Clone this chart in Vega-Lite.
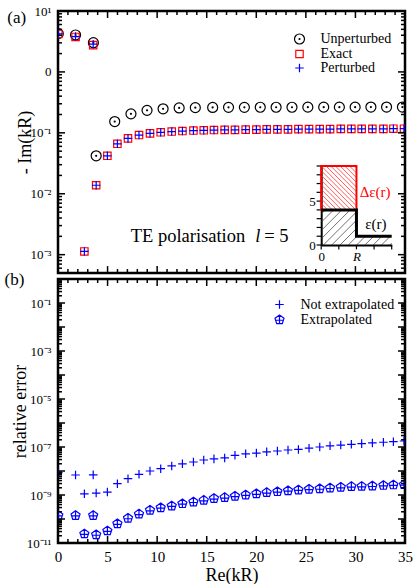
{
 "$schema": "https://vega.github.io/schema/vega-lite/v6.json",
 "padding": {"left": 3, "top": 3, "right": 8, "bottom": 2},
 "bounds": "flush",
 "spacing": 6,
 "resolve": {"scale": {"color": "independent", "shape": "independent"}},
 "config": {
  "font": "Liberation Serif",
  "view": {"stroke": "black", "strokeWidth": 2.5},
  "axis": {"domain": false, "grid": false, "labelFont": "Liberation Serif", "titleFont": "Liberation Serif", "labelColor": "black", "titleColor": "black", "labelFontSize": 13, "titleFontSize": 18, "titleFontWeight": "normal", "labelOverlap": false, "labelFlush": false, "labelBound": false},
  "legend": {"labelFont": "Liberation Serif", "labelColor": "black", "labelFontSize": 14, "padding": 0, "symbolStrokeWidth": 1.2, "symbolOpacity": 1}
 },
 "datasets": {
  "a": [
   {"x":0.03,"y":4.25,"s":"Unperturbed"},{"x":1.77,"y":4.04,"s":"Unperturbed"},{"x":3.57,"y":3.02,"s":"Unperturbed"},{"x":3.85,"y":0.042,"s":"Unperturbed"},{"x":5.72,"y":0.153,"s":"Unperturbed"},{"x":7.36,"y":0.205,"s":"Unperturbed"},{"x":8.98,"y":0.234,"s":"Unperturbed"},{"x":10.6,"y":0.248,"s":"Unperturbed"},{"x":12.22,"y":0.256,"s":"Unperturbed"},{"x":13.85,"y":0.259,"s":"Unperturbed"},{"x":15.6,"y":0.261,"s":"Unperturbed"},{"x":17.2,"y":0.262,"s":"Unperturbed"},{"x":18.8,"y":0.262,"s":"Unperturbed"},{"x":20.4,"y":0.263,"s":"Unperturbed"},{"x":22.0,"y":0.263,"s":"Unperturbed"},{"x":23.6,"y":0.263,"s":"Unperturbed"},{"x":25.2,"y":0.264,"s":"Unperturbed"},{"x":26.8,"y":0.264,"s":"Unperturbed"},{"x":28.38,"y":0.264,"s":"Unperturbed"},{"x":29.97,"y":0.264,"s":"Unperturbed"},{"x":31.56,"y":0.265,"s":"Unperturbed"},{"x":33.14,"y":0.265,"s":"Unperturbed"},{"x":34.74,"y":0.265,"s":"Unperturbed"},
   {"x":0.03,"y":4.2,"s":"Exact"},{"x":1.77,"y":3.75,"s":"Exact"},{"x":3.55,"y":2.75,"s":"Exact"},{"x":2.66,"y":0.00113,"s":"Exact"},{"x":3.85,"y":0.0138,"s":"Exact"},{"x":4.98,"y":0.042,"s":"Exact"},{"x":5.99,"y":0.066,"s":"Exact"},{"x":7.06,"y":0.081,"s":"Exact"},{"x":8.17,"y":0.092,"s":"Exact"},{"x":9.28,"y":0.098,"s":"Exact"},{"x":10.36,"y":0.102,"s":"Exact"},{"x":11.47,"y":0.105,"s":"Exact"},{"x":12.55,"y":0.107,"s":"Exact"},{"x":13.66,"y":0.109,"s":"Exact"},{"x":14.7,"y":0.110,"s":"Exact"},{"x":15.73,"y":0.111,"s":"Exact"},{"x":16.81,"y":0.112,"s":"Exact"},{"x":17.85,"y":0.112,"s":"Exact"},{"x":18.93,"y":0.113,"s":"Exact"},{"x":20.01,"y":0.113,"s":"Exact"},{"x":21.05,"y":0.114,"s":"Exact"},{"x":22.13,"y":0.114,"s":"Exact"},{"x":23.2,"y":0.114,"s":"Exact"},{"x":24.25,"y":0.115,"s":"Exact"},{"x":25.32,"y":0.115,"s":"Exact"},{"x":26.4,"y":0.115,"s":"Exact"},{"x":27.44,"y":0.115,"s":"Exact"},{"x":28.52,"y":0.116,"s":"Exact"},{"x":29.59,"y":0.116,"s":"Exact"},{"x":30.63,"y":0.116,"s":"Exact"},{"x":31.71,"y":0.116,"s":"Exact"},{"x":32.82,"y":0.116,"s":"Exact"},{"x":33.83,"y":0.117,"s":"Exact"},{"x":34.9,"y":0.117,"s":"Exact"},
   {"x":0.03,"y":4.2,"s":"Perturbed"},{"x":1.77,"y":3.8,"s":"Perturbed"},{"x":3.55,"y":2.85,"s":"Perturbed"},{"x":2.66,"y":0.00113,"s":"Perturbed"},{"x":3.85,"y":0.0138,"s":"Perturbed"},{"x":4.98,"y":0.042,"s":"Perturbed"},{"x":5.99,"y":0.066,"s":"Perturbed"},{"x":7.06,"y":0.081,"s":"Perturbed"},{"x":8.17,"y":0.092,"s":"Perturbed"},{"x":9.28,"y":0.098,"s":"Perturbed"},{"x":10.36,"y":0.102,"s":"Perturbed"},{"x":11.47,"y":0.105,"s":"Perturbed"},{"x":12.55,"y":0.107,"s":"Perturbed"},{"x":13.66,"y":0.109,"s":"Perturbed"},{"x":14.7,"y":0.110,"s":"Perturbed"},{"x":15.73,"y":0.111,"s":"Perturbed"},{"x":16.81,"y":0.112,"s":"Perturbed"},{"x":17.85,"y":0.112,"s":"Perturbed"},{"x":18.93,"y":0.113,"s":"Perturbed"},{"x":20.01,"y":0.113,"s":"Perturbed"},{"x":21.05,"y":0.114,"s":"Perturbed"},{"x":22.13,"y":0.114,"s":"Perturbed"},{"x":23.2,"y":0.114,"s":"Perturbed"},{"x":24.25,"y":0.115,"s":"Perturbed"},{"x":25.32,"y":0.115,"s":"Perturbed"},{"x":26.4,"y":0.115,"s":"Perturbed"},{"x":27.44,"y":0.115,"s":"Perturbed"},{"x":28.52,"y":0.116,"s":"Perturbed"},{"x":29.59,"y":0.116,"s":"Perturbed"},{"x":30.63,"y":0.116,"s":"Perturbed"},{"x":31.71,"y":0.116,"s":"Perturbed"},{"x":32.82,"y":0.116,"s":"Perturbed"},{"x":33.83,"y":0.117,"s":"Perturbed"},{"x":34.9,"y":0.117,"s":"Perturbed"}
  ],
  "b": [
   {"x":0.03,"y":8.5e-9,"s":"Not extrapolated"},{"x":1.77,"y":6.8e-9,"s":"Not extrapolated"},{"x":3.55,"y":6.9e-9,"s":"Not extrapolated"},{"x":2.66,"y":1.12e-9,"s":"Not extrapolated"},{"x":3.85,"y":1.2e-9,"s":"Not extrapolated"},{"x":4.98,"y":1.33e-9,"s":"Not extrapolated"},{"x":5.99,"y":2.96e-9,"s":"Not extrapolated"},{"x":7.06,"y":4.8e-9,"s":"Not extrapolated"},{"x":8.17,"y":7.3e-9,"s":"Not extrapolated"},{"x":9.28,"y":1.0e-8,"s":"Not extrapolated"},{"x":10.36,"y":1.25e-8,"s":"Not extrapolated"},{"x":11.47,"y":1.63e-8,"s":"Not extrapolated"},{"x":12.55,"y":2.0e-8,"s":"Not extrapolated"},{"x":13.66,"y":2.37e-8,"s":"Not extrapolated"},{"x":14.7,"y":2.87e-8,"s":"Not extrapolated"},{"x":15.73,"y":3.2e-8,"s":"Not extrapolated"},{"x":16.81,"y":3.5e-8,"s":"Not extrapolated"},{"x":17.85,"y":4.5e-8,"s":"Not extrapolated"},{"x":18.93,"y":5.2e-8,"s":"Not extrapolated"},{"x":20.01,"y":5.6e-8,"s":"Not extrapolated"},{"x":21.05,"y":6.3e-8,"s":"Not extrapolated"},{"x":22.13,"y":6.8e-8,"s":"Not extrapolated"},{"x":23.2,"y":7.5e-8,"s":"Not extrapolated"},{"x":24.25,"y":7.9e-8,"s":"Not extrapolated"},{"x":25.32,"y":8.9e-8,"s":"Not extrapolated"},{"x":26.4,"y":1.0e-7,"s":"Not extrapolated"},{"x":27.44,"y":1.12e-7,"s":"Not extrapolated"},{"x":28.52,"y":1.2e-7,"s":"Not extrapolated"},{"x":29.59,"y":1.29e-7,"s":"Not extrapolated"},{"x":30.63,"y":1.38e-7,"s":"Not extrapolated"},{"x":31.71,"y":1.48e-7,"s":"Not extrapolated"},{"x":32.82,"y":1.58e-7,"s":"Not extrapolated"},{"x":33.83,"y":1.66e-7,"s":"Not extrapolated"},{"x":34.9,"y":1.78e-7,"s":"Not extrapolated"},
   {"x":0.03,"y":1.4e-10,"s":"Extrapolated"},{"x":1.77,"y":1.4e-10,"s":"Extrapolated"},{"x":3.55,"y":1.4e-10,"s":"Extrapolated"},{"x":2.66,"y":2.4e-11,"s":"Extrapolated"},{"x":3.85,"y":2.2e-11,"s":"Extrapolated"},{"x":4.98,"y":3.2e-11,"s":"Extrapolated"},{"x":5.99,"y":6.3e-11,"s":"Extrapolated"},{"x":7.06,"y":1.07e-10,"s":"Extrapolated"},{"x":8.17,"y":1.6e-10,"s":"Extrapolated"},{"x":9.28,"y":2.3e-10,"s":"Extrapolated"},{"x":10.36,"y":2.95e-10,"s":"Extrapolated"},{"x":11.47,"y":3.5e-10,"s":"Extrapolated"},{"x":12.55,"y":4.35e-10,"s":"Extrapolated"},{"x":13.66,"y":5.1e-10,"s":"Extrapolated"},{"x":14.7,"y":6.0e-10,"s":"Extrapolated"},{"x":15.73,"y":7.1e-10,"s":"Extrapolated"},{"x":16.81,"y":7.8e-10,"s":"Extrapolated"},{"x":17.85,"y":8.9e-10,"s":"Extrapolated"},{"x":18.93,"y":1.0e-9,"s":"Extrapolated"},{"x":20.01,"y":1.12e-9,"s":"Extrapolated"},{"x":21.05,"y":1.26e-9,"s":"Extrapolated"},{"x":22.13,"y":1.38e-9,"s":"Extrapolated"},{"x":23.2,"y":1.51e-9,"s":"Extrapolated"},{"x":24.25,"y":1.62e-9,"s":"Extrapolated"},{"x":25.32,"y":1.74e-9,"s":"Extrapolated"},{"x":26.4,"y":1.82e-9,"s":"Extrapolated"},{"x":27.44,"y":1.95e-9,"s":"Extrapolated"},{"x":28.52,"y":2.09e-9,"s":"Extrapolated"},{"x":29.59,"y":2.24e-9,"s":"Extrapolated"},{"x":30.63,"y":2.29e-9,"s":"Extrapolated"},{"x":31.71,"y":2.37e-9,"s":"Extrapolated"},{"x":32.82,"y":2.51e-9,"s":"Extrapolated"},{"x":33.83,"y":2.63e-9,"s":"Extrapolated"},{"x":34.9,"y":2.69e-9,"s":"Extrapolated"}
  ],
  "ta": [
   {"x":0,"x2":0,"y":10,"y2":7.68},{"x":0,"x2":0,"y":0.0005,"y2":0.00065},{"x":5,"x2":5,"y":10,"y2":7.68},{"x":5,"x2":5,"y":0.0005,"y2":0.00065},{"x":10,"x2":10,"y":10,"y2":7.68},{"x":10,"x2":10,"y":0.0005,"y2":0.00065},{"x":15,"x2":15,"y":10,"y2":7.68},{"x":15,"x2":15,"y":0.0005,"y2":0.00065},{"x":20,"x2":20,"y":10,"y2":7.68},{"x":20,"x2":20,"y":0.0005,"y2":0.00065},{"x":25,"x2":25,"y":10,"y2":7.68},{"x":25,"x2":25,"y":0.0005,"y2":0.00065},{"x":30,"x2":30,"y":10,"y2":7.68},{"x":30,"x2":30,"y":0.0005,"y2":0.00065},{"x":35,"x2":35,"y":10,"y2":7.68},{"x":35,"x2":35,"y":0.0005,"y2":0.00065},
   {"x":1,"x2":1,"y":10,"y2":8.6},{"x":1,"x2":1,"y":0.0005,"y2":0.00058},{"x":2,"x2":2,"y":10,"y2":8.6},{"x":2,"x2":2,"y":0.0005,"y2":0.00058},{"x":3,"x2":3,"y":10,"y2":8.6},{"x":3,"x2":3,"y":0.0005,"y2":0.00058},{"x":4,"x2":4,"y":10,"y2":8.6},{"x":4,"x2":4,"y":0.0005,"y2":0.00058},
   {"x":6,"x2":6,"y":10,"y2":8.6},{"x":6,"x2":6,"y":0.0005,"y2":0.00058},{"x":7,"x2":7,"y":10,"y2":8.6},{"x":7,"x2":7,"y":0.0005,"y2":0.00058},{"x":8,"x2":8,"y":10,"y2":8.6},{"x":8,"x2":8,"y":0.0005,"y2":0.00058},{"x":9,"x2":9,"y":10,"y2":8.6},{"x":9,"x2":9,"y":0.0005,"y2":0.00058},
   {"x":11,"x2":11,"y":10,"y2":8.6},{"x":11,"x2":11,"y":0.0005,"y2":0.00058},{"x":12,"x2":12,"y":10,"y2":8.6},{"x":12,"x2":12,"y":0.0005,"y2":0.00058},{"x":13,"x2":13,"y":10,"y2":8.6},{"x":13,"x2":13,"y":0.0005,"y2":0.00058},{"x":14,"x2":14,"y":10,"y2":8.6},{"x":14,"x2":14,"y":0.0005,"y2":0.00058},
   {"x":16,"x2":16,"y":10,"y2":8.6},{"x":16,"x2":16,"y":0.0005,"y2":0.00058},{"x":17,"x2":17,"y":10,"y2":8.6},{"x":17,"x2":17,"y":0.0005,"y2":0.00058},{"x":18,"x2":18,"y":10,"y2":8.6},{"x":18,"x2":18,"y":0.0005,"y2":0.00058},{"x":19,"x2":19,"y":10,"y2":8.6},{"x":19,"x2":19,"y":0.0005,"y2":0.00058},
   {"x":21,"x2":21,"y":10,"y2":8.6},{"x":21,"x2":21,"y":0.0005,"y2":0.00058},{"x":22,"x2":22,"y":10,"y2":8.6},{"x":22,"x2":22,"y":0.0005,"y2":0.00058},{"x":23,"x2":23,"y":10,"y2":8.6},{"x":23,"x2":23,"y":0.0005,"y2":0.00058},{"x":24,"x2":24,"y":10,"y2":8.6},{"x":24,"x2":24,"y":0.0005,"y2":0.00058},
   {"x":26,"x2":26,"y":10,"y2":8.6},{"x":26,"x2":26,"y":0.0005,"y2":0.00058},{"x":27,"x2":27,"y":10,"y2":8.6},{"x":27,"x2":27,"y":0.0005,"y2":0.00058},{"x":28,"x2":28,"y":10,"y2":8.6},{"x":28,"x2":28,"y":0.0005,"y2":0.00058},{"x":29,"x2":29,"y":10,"y2":8.6},{"x":29,"x2":29,"y":0.0005,"y2":0.00058},
   {"x":31,"x2":31,"y":10,"y2":8.6},{"x":31,"x2":31,"y":0.0005,"y2":0.00058},{"x":32,"x2":32,"y":10,"y2":8.6},{"x":32,"x2":32,"y":0.0005,"y2":0.00058},{"x":33,"x2":33,"y":10,"y2":8.6},{"x":33,"x2":33,"y":0.0005,"y2":0.00058},{"x":34,"x2":34,"y":10,"y2":8.6},{"x":34,"x2":34,"y":0.0005,"y2":0.00058},
   {"x":0,"x2":0.706,"y":0.001,"y2":0.001},{"x":35,"x2":34.294,"y":0.001,"y2":0.001},{"x":0,"x2":0.706,"y":0.01,"y2":0.01},{"x":35,"x2":34.294,"y":0.01,"y2":0.01},{"x":0,"x2":0.706,"y":0.1,"y2":0.1},{"x":35,"x2":34.294,"y":0.1,"y2":0.1},{"x":0,"x2":0.706,"y":1,"y2":1},{"x":35,"x2":34.294,"y":1,"y2":1},
   {"x":0,"x2":0.403,"y":0.0006,"y2":0.0006},{"x":35,"x2":34.597,"y":0.0006,"y2":0.0006},{"x":0,"x2":0.403,"y":0.0007,"y2":0.0007},{"x":35,"x2":34.597,"y":0.0007,"y2":0.0007},{"x":0,"x2":0.403,"y":0.0008,"y2":0.0008},{"x":35,"x2":34.597,"y":0.0008,"y2":0.0008},{"x":0,"x2":0.403,"y":0.0009,"y2":0.0009},{"x":35,"x2":34.597,"y":0.0009,"y2":0.0009},
   {"x":0,"x2":0.403,"y":0.002,"y2":0.002},{"x":35,"x2":34.597,"y":0.002,"y2":0.002},{"x":0,"x2":0.403,"y":0.003,"y2":0.003},{"x":35,"x2":34.597,"y":0.003,"y2":0.003},{"x":0,"x2":0.403,"y":0.004,"y2":0.004},{"x":35,"x2":34.597,"y":0.004,"y2":0.004},{"x":0,"x2":0.403,"y":0.005,"y2":0.005},{"x":35,"x2":34.597,"y":0.005,"y2":0.005},{"x":0,"x2":0.403,"y":0.006,"y2":0.006},{"x":35,"x2":34.597,"y":0.006,"y2":0.006},{"x":0,"x2":0.403,"y":0.007,"y2":0.007},{"x":35,"x2":34.597,"y":0.007,"y2":0.007},{"x":0,"x2":0.403,"y":0.008,"y2":0.008},{"x":35,"x2":34.597,"y":0.008,"y2":0.008},{"x":0,"x2":0.403,"y":0.009,"y2":0.009},{"x":35,"x2":34.597,"y":0.009,"y2":0.009},
   {"x":0,"x2":0.403,"y":0.02,"y2":0.02},{"x":35,"x2":34.597,"y":0.02,"y2":0.02},{"x":0,"x2":0.403,"y":0.03,"y2":0.03},{"x":35,"x2":34.597,"y":0.03,"y2":0.03},{"x":0,"x2":0.403,"y":0.04,"y2":0.04},{"x":35,"x2":34.597,"y":0.04,"y2":0.04},{"x":0,"x2":0.403,"y":0.05,"y2":0.05},{"x":35,"x2":34.597,"y":0.05,"y2":0.05},{"x":0,"x2":0.403,"y":0.06,"y2":0.06},{"x":35,"x2":34.597,"y":0.06,"y2":0.06},{"x":0,"x2":0.403,"y":0.07,"y2":0.07},{"x":35,"x2":34.597,"y":0.07,"y2":0.07},{"x":0,"x2":0.403,"y":0.08,"y2":0.08},{"x":35,"x2":34.597,"y":0.08,"y2":0.08},{"x":0,"x2":0.403,"y":0.09,"y2":0.09},{"x":35,"x2":34.597,"y":0.09,"y2":0.09},
   {"x":0,"x2":0.403,"y":0.2,"y2":0.2},{"x":35,"x2":34.597,"y":0.2,"y2":0.2},{"x":0,"x2":0.403,"y":0.3,"y2":0.3},{"x":35,"x2":34.597,"y":0.3,"y2":0.3},{"x":0,"x2":0.403,"y":0.4,"y2":0.4},{"x":35,"x2":34.597,"y":0.4,"y2":0.4},{"x":0,"x2":0.403,"y":0.5,"y2":0.5},{"x":35,"x2":34.597,"y":0.5,"y2":0.5},{"x":0,"x2":0.403,"y":0.6,"y2":0.6},{"x":35,"x2":34.597,"y":0.6,"y2":0.6},{"x":0,"x2":0.403,"y":0.7,"y2":0.7},{"x":35,"x2":34.597,"y":0.7,"y2":0.7},{"x":0,"x2":0.403,"y":0.8,"y2":0.8},{"x":35,"x2":34.597,"y":0.8,"y2":0.8},{"x":0,"x2":0.403,"y":0.9,"y2":0.9},{"x":35,"x2":34.597,"y":0.9,"y2":0.9},
   {"x":0,"x2":0.403,"y":2,"y2":2},{"x":35,"x2":34.597,"y":2,"y2":2},{"x":0,"x2":0.403,"y":3,"y2":3},{"x":35,"x2":34.597,"y":3,"y2":3},{"x":0,"x2":0.403,"y":4,"y2":4},{"x":35,"x2":34.597,"y":4,"y2":4},{"x":0,"x2":0.403,"y":5,"y2":5},{"x":35,"x2":34.597,"y":5,"y2":5},{"x":0,"x2":0.403,"y":6,"y2":6},{"x":35,"x2":34.597,"y":6,"y2":6},{"x":0,"x2":0.403,"y":7,"y2":7},{"x":35,"x2":34.597,"y":7,"y2":7},{"x":0,"x2":0.403,"y":8,"y2":8},{"x":35,"x2":34.597,"y":8,"y2":8},{"x":0,"x2":0.403,"y":9,"y2":9},{"x":35,"x2":34.597,"y":9,"y2":9}
  ],
  "tb": [
   {"x":0,"x2":0,"y":1,"y2":0.511},{"x":0,"x2":0,"y":1e-11,"y2":1.96e-11},{"x":5,"x2":5,"y":1,"y2":0.511},{"x":5,"x2":5,"y":1e-11,"y2":1.96e-11},{"x":10,"x2":10,"y":1,"y2":0.511},{"x":10,"x2":10,"y":1e-11,"y2":1.96e-11},{"x":15,"x2":15,"y":1,"y2":0.511},{"x":15,"x2":15,"y":1e-11,"y2":1.96e-11},{"x":20,"x2":20,"y":1,"y2":0.511},{"x":20,"x2":20,"y":1e-11,"y2":1.96e-11},{"x":25,"x2":25,"y":1,"y2":0.511},{"x":25,"x2":25,"y":1e-11,"y2":1.96e-11},{"x":30,"x2":30,"y":1,"y2":0.511},{"x":30,"x2":30,"y":1e-11,"y2":1.96e-11},{"x":35,"x2":35,"y":1,"y2":0.511},{"x":35,"x2":35,"y":1e-11,"y2":1.96e-11},
   {"x":1,"x2":1,"y":1,"y2":0.681},{"x":1,"x2":1,"y":1e-11,"y2":1.47e-11},{"x":2,"x2":2,"y":1,"y2":0.681},{"x":2,"x2":2,"y":1e-11,"y2":1.47e-11},{"x":3,"x2":3,"y":1,"y2":0.681},{"x":3,"x2":3,"y":1e-11,"y2":1.47e-11},{"x":4,"x2":4,"y":1,"y2":0.681},{"x":4,"x2":4,"y":1e-11,"y2":1.47e-11},
   {"x":6,"x2":6,"y":1,"y2":0.681},{"x":6,"x2":6,"y":1e-11,"y2":1.47e-11},{"x":7,"x2":7,"y":1,"y2":0.681},{"x":7,"x2":7,"y":1e-11,"y2":1.47e-11},{"x":8,"x2":8,"y":1,"y2":0.681},{"x":8,"x2":8,"y":1e-11,"y2":1.47e-11},{"x":9,"x2":9,"y":1,"y2":0.681},{"x":9,"x2":9,"y":1e-11,"y2":1.47e-11},
   {"x":11,"x2":11,"y":1,"y2":0.681},{"x":11,"x2":11,"y":1e-11,"y2":1.47e-11},{"x":12,"x2":12,"y":1,"y2":0.681},{"x":12,"x2":12,"y":1e-11,"y2":1.47e-11},{"x":13,"x2":13,"y":1,"y2":0.681},{"x":13,"x2":13,"y":1e-11,"y2":1.47e-11},{"x":14,"x2":14,"y":1,"y2":0.681},{"x":14,"x2":14,"y":1e-11,"y2":1.47e-11},
   {"x":16,"x2":16,"y":1,"y2":0.681},{"x":16,"x2":16,"y":1e-11,"y2":1.47e-11},{"x":17,"x2":17,"y":1,"y2":0.681},{"x":17,"x2":17,"y":1e-11,"y2":1.47e-11},{"x":18,"x2":18,"y":1,"y2":0.681},{"x":18,"x2":18,"y":1e-11,"y2":1.47e-11},{"x":19,"x2":19,"y":1,"y2":0.681},{"x":19,"x2":19,"y":1e-11,"y2":1.47e-11},
   {"x":21,"x2":21,"y":1,"y2":0.681},{"x":21,"x2":21,"y":1e-11,"y2":1.47e-11},{"x":22,"x2":22,"y":1,"y2":0.681},{"x":22,"x2":22,"y":1e-11,"y2":1.47e-11},{"x":23,"x2":23,"y":1,"y2":0.681},{"x":23,"x2":23,"y":1e-11,"y2":1.47e-11},{"x":24,"x2":24,"y":1,"y2":0.681},{"x":24,"x2":24,"y":1e-11,"y2":1.47e-11},
   {"x":26,"x2":26,"y":1,"y2":0.681},{"x":26,"x2":26,"y":1e-11,"y2":1.47e-11},{"x":27,"x2":27,"y":1,"y2":0.681},{"x":27,"x2":27,"y":1e-11,"y2":1.47e-11},{"x":28,"x2":28,"y":1,"y2":0.681},{"x":28,"x2":28,"y":1e-11,"y2":1.47e-11},{"x":29,"x2":29,"y":1,"y2":0.681},{"x":29,"x2":29,"y":1e-11,"y2":1.47e-11},
   {"x":31,"x2":31,"y":1,"y2":0.681},{"x":31,"x2":31,"y":1e-11,"y2":1.47e-11},{"x":32,"x2":32,"y":1,"y2":0.681},{"x":32,"x2":32,"y":1e-11,"y2":1.47e-11},{"x":33,"x2":33,"y":1,"y2":0.681},{"x":33,"x2":33,"y":1e-11,"y2":1.47e-11},{"x":34,"x2":34,"y":1,"y2":0.681},{"x":34,"x2":34,"y":1e-11,"y2":1.47e-11},
   {"x":0,"x2":0.706,"y":1e-10,"y2":1e-10},{"x":35,"x2":34.294,"y":1e-10,"y2":1e-10},{"x":0,"x2":0.706,"y":1e-9,"y2":1e-9},{"x":35,"x2":34.294,"y":1e-9,"y2":1e-9},{"x":0,"x2":0.706,"y":1e-8,"y2":1e-8},{"x":35,"x2":34.294,"y":1e-8,"y2":1e-8},{"x":0,"x2":0.706,"y":1e-7,"y2":1e-7},{"x":35,"x2":34.294,"y":1e-7,"y2":1e-7},{"x":0,"x2":0.706,"y":1e-6,"y2":1e-6},{"x":35,"x2":34.294,"y":1e-6,"y2":1e-6},{"x":0,"x2":0.706,"y":1e-5,"y2":1e-5},{"x":35,"x2":34.294,"y":1e-5,"y2":1e-5},{"x":0,"x2":0.706,"y":1e-4,"y2":1e-4},{"x":35,"x2":34.294,"y":1e-4,"y2":1e-4},{"x":0,"x2":0.706,"y":1e-3,"y2":1e-3},{"x":35,"x2":34.294,"y":1e-3,"y2":1e-3},{"x":0,"x2":0.706,"y":1e-2,"y2":1e-2},{"x":35,"x2":34.294,"y":1e-2,"y2":1e-2},{"x":0,"x2":0.706,"y":1e-1,"y2":1e-1},{"x":35,"x2":34.294,"y":1e-1,"y2":1e-1},
   {"x":0,"x2":0.403,"y":2e-11,"y2":2e-11},{"x":35,"x2":34.597,"y":2e-11,"y2":2e-11},{"x":0,"x2":0.403,"y":3e-11,"y2":3e-11},{"x":35,"x2":34.597,"y":3e-11,"y2":3e-11},{"x":0,"x2":0.403,"y":4e-11,"y2":4e-11},{"x":35,"x2":34.597,"y":4e-11,"y2":4e-11},{"x":0,"x2":0.403,"y":5e-11,"y2":5e-11},{"x":35,"x2":34.597,"y":5e-11,"y2":5e-11},{"x":0,"x2":0.403,"y":6e-11,"y2":6e-11},{"x":35,"x2":34.597,"y":6e-11,"y2":6e-11},{"x":0,"x2":0.403,"y":7e-11,"y2":7e-11},{"x":35,"x2":34.597,"y":7e-11,"y2":7e-11},{"x":0,"x2":0.403,"y":8e-11,"y2":8e-11},{"x":35,"x2":34.597,"y":8e-11,"y2":8e-11},{"x":0,"x2":0.403,"y":9e-11,"y2":9e-11},{"x":35,"x2":34.597,"y":9e-11,"y2":9e-11},
   {"x":0,"x2":0.403,"y":2e-10,"y2":2e-10},{"x":35,"x2":34.597,"y":2e-10,"y2":2e-10},{"x":0,"x2":0.403,"y":3e-10,"y2":3e-10},{"x":35,"x2":34.597,"y":3e-10,"y2":3e-10},{"x":0,"x2":0.403,"y":4e-10,"y2":4e-10},{"x":35,"x2":34.597,"y":4e-10,"y2":4e-10},{"x":0,"x2":0.403,"y":5e-10,"y2":5e-10},{"x":35,"x2":34.597,"y":5e-10,"y2":5e-10},{"x":0,"x2":0.403,"y":6e-10,"y2":6e-10},{"x":35,"x2":34.597,"y":6e-10,"y2":6e-10},{"x":0,"x2":0.403,"y":7e-10,"y2":7e-10},{"x":35,"x2":34.597,"y":7e-10,"y2":7e-10},{"x":0,"x2":0.403,"y":8e-10,"y2":8e-10},{"x":35,"x2":34.597,"y":8e-10,"y2":8e-10},{"x":0,"x2":0.403,"y":9e-10,"y2":9e-10},{"x":35,"x2":34.597,"y":9e-10,"y2":9e-10},
   {"x":0,"x2":0.403,"y":2e-9,"y2":2e-9},{"x":35,"x2":34.597,"y":2e-9,"y2":2e-9},{"x":0,"x2":0.403,"y":3e-9,"y2":3e-9},{"x":35,"x2":34.597,"y":3e-9,"y2":3e-9},{"x":0,"x2":0.403,"y":4e-9,"y2":4e-9},{"x":35,"x2":34.597,"y":4e-9,"y2":4e-9},{"x":0,"x2":0.403,"y":5e-9,"y2":5e-9},{"x":35,"x2":34.597,"y":5e-9,"y2":5e-9},{"x":0,"x2":0.403,"y":6e-9,"y2":6e-9},{"x":35,"x2":34.597,"y":6e-9,"y2":6e-9},{"x":0,"x2":0.403,"y":7e-9,"y2":7e-9},{"x":35,"x2":34.597,"y":7e-9,"y2":7e-9},{"x":0,"x2":0.403,"y":8e-9,"y2":8e-9},{"x":35,"x2":34.597,"y":8e-9,"y2":8e-9},{"x":0,"x2":0.403,"y":9e-9,"y2":9e-9},{"x":35,"x2":34.597,"y":9e-9,"y2":9e-9},
   {"x":0,"x2":0.403,"y":2e-8,"y2":2e-8},{"x":35,"x2":34.597,"y":2e-8,"y2":2e-8},{"x":0,"x2":0.403,"y":3e-8,"y2":3e-8},{"x":35,"x2":34.597,"y":3e-8,"y2":3e-8},{"x":0,"x2":0.403,"y":4e-8,"y2":4e-8},{"x":35,"x2":34.597,"y":4e-8,"y2":4e-8},{"x":0,"x2":0.403,"y":5e-8,"y2":5e-8},{"x":35,"x2":34.597,"y":5e-8,"y2":5e-8},{"x":0,"x2":0.403,"y":6e-8,"y2":6e-8},{"x":35,"x2":34.597,"y":6e-8,"y2":6e-8},{"x":0,"x2":0.403,"y":7e-8,"y2":7e-8},{"x":35,"x2":34.597,"y":7e-8,"y2":7e-8},{"x":0,"x2":0.403,"y":8e-8,"y2":8e-8},{"x":35,"x2":34.597,"y":8e-8,"y2":8e-8},{"x":0,"x2":0.403,"y":9e-8,"y2":9e-8},{"x":35,"x2":34.597,"y":9e-8,"y2":9e-8},
   {"x":0,"x2":0.403,"y":2e-7,"y2":2e-7},{"x":35,"x2":34.597,"y":2e-7,"y2":2e-7},{"x":0,"x2":0.403,"y":3e-7,"y2":3e-7},{"x":35,"x2":34.597,"y":3e-7,"y2":3e-7},{"x":0,"x2":0.403,"y":4e-7,"y2":4e-7},{"x":35,"x2":34.597,"y":4e-7,"y2":4e-7},{"x":0,"x2":0.403,"y":5e-7,"y2":5e-7},{"x":35,"x2":34.597,"y":5e-7,"y2":5e-7},{"x":0,"x2":0.403,"y":6e-7,"y2":6e-7},{"x":35,"x2":34.597,"y":6e-7,"y2":6e-7},{"x":0,"x2":0.403,"y":7e-7,"y2":7e-7},{"x":35,"x2":34.597,"y":7e-7,"y2":7e-7},{"x":0,"x2":0.403,"y":8e-7,"y2":8e-7},{"x":35,"x2":34.597,"y":8e-7,"y2":8e-7},{"x":0,"x2":0.403,"y":9e-7,"y2":9e-7},{"x":35,"x2":34.597,"y":9e-7,"y2":9e-7},
   {"x":0,"x2":0.403,"y":2e-6,"y2":2e-6},{"x":35,"x2":34.597,"y":2e-6,"y2":2e-6},{"x":0,"x2":0.403,"y":3e-6,"y2":3e-6},{"x":35,"x2":34.597,"y":3e-6,"y2":3e-6},{"x":0,"x2":0.403,"y":4e-6,"y2":4e-6},{"x":35,"x2":34.597,"y":4e-6,"y2":4e-6},{"x":0,"x2":0.403,"y":5e-6,"y2":5e-6},{"x":35,"x2":34.597,"y":5e-6,"y2":5e-6},{"x":0,"x2":0.403,"y":6e-6,"y2":6e-6},{"x":35,"x2":34.597,"y":6e-6,"y2":6e-6},{"x":0,"x2":0.403,"y":7e-6,"y2":7e-6},{"x":35,"x2":34.597,"y":7e-6,"y2":7e-6},{"x":0,"x2":0.403,"y":8e-6,"y2":8e-6},{"x":35,"x2":34.597,"y":8e-6,"y2":8e-6},{"x":0,"x2":0.403,"y":9e-6,"y2":9e-6},{"x":35,"x2":34.597,"y":9e-6,"y2":9e-6},
   {"x":0,"x2":0.403,"y":2e-5,"y2":2e-5},{"x":35,"x2":34.597,"y":2e-5,"y2":2e-5},{"x":0,"x2":0.403,"y":3e-5,"y2":3e-5},{"x":35,"x2":34.597,"y":3e-5,"y2":3e-5},{"x":0,"x2":0.403,"y":4e-5,"y2":4e-5},{"x":35,"x2":34.597,"y":4e-5,"y2":4e-5},{"x":0,"x2":0.403,"y":5e-5,"y2":5e-5},{"x":35,"x2":34.597,"y":5e-5,"y2":5e-5},{"x":0,"x2":0.403,"y":6e-5,"y2":6e-5},{"x":35,"x2":34.597,"y":6e-5,"y2":6e-5},{"x":0,"x2":0.403,"y":7e-5,"y2":7e-5},{"x":35,"x2":34.597,"y":7e-5,"y2":7e-5},{"x":0,"x2":0.403,"y":8e-5,"y2":8e-5},{"x":35,"x2":34.597,"y":8e-5,"y2":8e-5},{"x":0,"x2":0.403,"y":9e-5,"y2":9e-5},{"x":35,"x2":34.597,"y":9e-5,"y2":9e-5},
   {"x":0,"x2":0.403,"y":2e-4,"y2":2e-4},{"x":35,"x2":34.597,"y":2e-4,"y2":2e-4},{"x":0,"x2":0.403,"y":3e-4,"y2":3e-4},{"x":35,"x2":34.597,"y":3e-4,"y2":3e-4},{"x":0,"x2":0.403,"y":4e-4,"y2":4e-4},{"x":35,"x2":34.597,"y":4e-4,"y2":4e-4},{"x":0,"x2":0.403,"y":5e-4,"y2":5e-4},{"x":35,"x2":34.597,"y":5e-4,"y2":5e-4},{"x":0,"x2":0.403,"y":6e-4,"y2":6e-4},{"x":35,"x2":34.597,"y":6e-4,"y2":6e-4},{"x":0,"x2":0.403,"y":7e-4,"y2":7e-4},{"x":35,"x2":34.597,"y":7e-4,"y2":7e-4},{"x":0,"x2":0.403,"y":8e-4,"y2":8e-4},{"x":35,"x2":34.597,"y":8e-4,"y2":8e-4},{"x":0,"x2":0.403,"y":9e-4,"y2":9e-4},{"x":35,"x2":34.597,"y":9e-4,"y2":9e-4},
   {"x":0,"x2":0.403,"y":2e-3,"y2":2e-3},{"x":35,"x2":34.597,"y":2e-3,"y2":2e-3},{"x":0,"x2":0.403,"y":3e-3,"y2":3e-3},{"x":35,"x2":34.597,"y":3e-3,"y2":3e-3},{"x":0,"x2":0.403,"y":4e-3,"y2":4e-3},{"x":35,"x2":34.597,"y":4e-3,"y2":4e-3},{"x":0,"x2":0.403,"y":5e-3,"y2":5e-3},{"x":35,"x2":34.597,"y":5e-3,"y2":5e-3},{"x":0,"x2":0.403,"y":6e-3,"y2":6e-3},{"x":35,"x2":34.597,"y":6e-3,"y2":6e-3},{"x":0,"x2":0.403,"y":7e-3,"y2":7e-3},{"x":35,"x2":34.597,"y":7e-3,"y2":7e-3},{"x":0,"x2":0.403,"y":8e-3,"y2":8e-3},{"x":35,"x2":34.597,"y":8e-3,"y2":8e-3},{"x":0,"x2":0.403,"y":9e-3,"y2":9e-3},{"x":35,"x2":34.597,"y":9e-3,"y2":9e-3},
   {"x":0,"x2":0.403,"y":2e-2,"y2":2e-2},{"x":35,"x2":34.597,"y":2e-2,"y2":2e-2},{"x":0,"x2":0.403,"y":3e-2,"y2":3e-2},{"x":35,"x2":34.597,"y":3e-2,"y2":3e-2},{"x":0,"x2":0.403,"y":4e-2,"y2":4e-2},{"x":35,"x2":34.597,"y":4e-2,"y2":4e-2},{"x":0,"x2":0.403,"y":5e-2,"y2":5e-2},{"x":35,"x2":34.597,"y":5e-2,"y2":5e-2},{"x":0,"x2":0.403,"y":6e-2,"y2":6e-2},{"x":35,"x2":34.597,"y":6e-2,"y2":6e-2},{"x":0,"x2":0.403,"y":7e-2,"y2":7e-2},{"x":35,"x2":34.597,"y":7e-2,"y2":7e-2},{"x":0,"x2":0.403,"y":8e-2,"y2":8e-2},{"x":35,"x2":34.597,"y":8e-2,"y2":8e-2},{"x":0,"x2":0.403,"y":9e-2,"y2":9e-2},{"x":35,"x2":34.597,"y":9e-2,"y2":9e-2},
   {"x":0,"x2":0.403,"y":0.2,"y2":0.2},{"x":35,"x2":34.597,"y":0.2,"y2":0.2},{"x":0,"x2":0.403,"y":0.3,"y2":0.3},{"x":35,"x2":34.597,"y":0.3,"y2":0.3},{"x":0,"x2":0.403,"y":0.4,"y2":0.4},{"x":35,"x2":34.597,"y":0.4,"y2":0.4},{"x":0,"x2":0.403,"y":0.5,"y2":0.5},{"x":35,"x2":34.597,"y":0.5,"y2":0.5},{"x":0,"x2":0.403,"y":0.6,"y2":0.6},{"x":35,"x2":34.597,"y":0.6,"y2":0.6},{"x":0,"x2":0.403,"y":0.7,"y2":0.7},{"x":35,"x2":34.597,"y":0.7,"y2":0.7},{"x":0,"x2":0.403,"y":0.8,"y2":0.8},{"x":35,"x2":34.597,"y":0.8,"y2":0.8},{"x":0,"x2":0.403,"y":0.9,"y2":0.9},{"x":35,"x2":34.597,"y":0.9,"y2":0.9}
  ],
  "insetTicks": [
   {"x":-0.13,"x2":0,"y":0,"y2":0},{"x":-0.13,"x2":0,"y":1,"y2":1},{"x":-0.13,"x2":0,"y":2,"y2":2},{"x":-0.13,"x2":0,"y":3,"y2":3},{"x":-0.13,"x2":0,"y":4,"y2":4},{"x":-0.13,"x2":0,"y":5,"y2":5},{"x":-0.13,"x2":0,"y":6,"y2":6},{"x":-0.13,"x2":0,"y":7,"y2":7},{"x":-0.13,"x2":0,"y":8,"y2":8},{"x":-0.13,"x2":0,"y":9,"y2":9},
   {"x":0,"x2":0,"y":0,"y2":-0.5},{"x":0.5,"x2":0.5,"y":0,"y2":-0.5},{"x":1,"x2":1,"y":0,"y2":-0.5},{"x":1.5,"x2":1.5,"y":0,"y2":-0.5},{"x":2,"x2":2,"y":0,"y2":-0.5}
  ],
  "hatchRed": [
   {"x":0.936,"y":9,"x2":1,"y2":8.744},{"x":0.803,"y":9,"x2":1,"y2":8.208},{"x":0.670,"y":9,"x2":1,"y2":7.673},{"x":0.536,"y":9,"x2":1,"y2":7.137},{"x":0.403,"y":9,"x2":1,"y2":6.602},{"x":0.270,"y":9,"x2":1,"y2":6.067},{"x":0.136,"y":9,"x2":1,"y2":5.531},{"x":0.003,"y":9,"x2":1,"y2":4.996},{"x":0,"y":8.476,"x2":1,"y2":4.460},{"x":0,"y":7.941,"x2":0.982,"y2":4},{"x":0,"y":7.405,"x2":0.848,"y2":4},{"x":0,"y":6.870,"x2":0.715,"y2":4},{"x":0,"y":6.334,"x2":0.582,"y2":4},{"x":0,"y":5.799,"x2":0.448,"y2":4},{"x":0,"y":5.263,"x2":0.315,"y2":4},{"x":0,"y":4.728,"x2":0.182,"y2":4},{"x":0,"y":4.192,"x2":0.048,"y2":4}
  ],
  "hatchBlack": [
   {"x":0,"y":3.532,"x2":0.116,"y2":4},{"x":0,"y":2.586,"x2":0.352,"y2":4},{"x":0,"y":1.640,"x2":0.587,"y2":4},{"x":0,"y":0.695,"x2":0.823,"y2":4},{"x":0.062,"y":0,"x2":1,"y2":3.765},{"x":0.298,"y":0,"x2":1,"y2":2.820},{"x":0.533,"y":0,"x2":1,"y2":1.874},{"x":0.769,"y":0,"x2":1,"y2":0.928},{"x":1.004,"y":0,"x2":1.253,"y2":1},{"x":1.240,"y":0,"x2":1.489,"y2":1},{"x":1.475,"y":0,"x2":1.724,"y2":1},{"x":1.711,"y":0,"x2":1.960,"y2":1},{"x":1.946,"y":0,"x2":2,"y2":0.216}
  ]
 },
 "vconcat": [
  {
   "width": 347, "height": 262,
   "resolve": {"scale": {"x": "independent", "y": "independent"}},
   "layer": [
    {
     "data": {"name": "a"},
     "mark": {"type": "point", "filled": false, "clip": true, "opacity": 1, "strokeWidth": 1.2, "size": 100},
     "encoding": {
      "x": {"field": "x", "type": "quantitative", "scale": {"domain": [0, 35], "nice": false, "zero": false}, "axis": null},
      "y": {"field": "y", "type": "quantitative", "scale": {"type": "log", "domain": [0.0005, 10], "nice": false},
        "axis": {"orient": "left", "values": [0.001, 0.01, 0.1, 1, 10], "ticks": false, "labelPadding": 7, "title": "- Im(kR)", "titlePadding": -4,
          "labelExpr": "round(log(datum.value)/LN10)==1 ? '10¹' : round(log(datum.value)/LN10)==0 ? '0' : round(log(datum.value)/LN10)==-1 ? '10⁻¹' : round(log(datum.value)/LN10)==-2 ? '10⁻²' : round(log(datum.value)/LN10)==-3 ? '10⁻³' : ''"}},
      "shape": {"field": "s", "type": "nominal", "scale": {"domain": ["Unperturbed", "Exact", "Perturbed"], "range": ["M1,0A1,1,0,1,1,-1,0A1,1,0,1,1,1,0Z M0.1,0A0.1,0.1,0,1,1,-0.1,0A0.1,0.1,0,1,1,0.1,0Z", "M-0.74,-0.74H0.74V0.74H-0.74Z", "M-0.85,0H0.85M0,-0.85V0.85"]},
        "legend": {"orient": "none", "legendX": 234.5, "legendY": 21, "title": null, "symbolSize": 100, "labelOffset": 14, "rowPadding": 0}},
      "color": {"field": "s", "type": "nominal", "scale": {"domain": ["Unperturbed", "Exact", "Perturbed"], "range": ["#000000", "#ff0000", "#0000ff"]},
        "legend": {"orient": "none", "legendX": 234.5, "legendY": 21, "title": null, "symbolSize": 100, "labelOffset": 14, "rowPadding": 0}}
     }
    },
    {
     "data": {"values": [{"x": 7.33, "y": 0.0016, "t": "TE polarisation"}, {"x": 20.8, "y": 0.0016, "t": "= 5"}]},
     "mark": {"type": "text", "align": "left", "baseline": "alphabetic", "fontSize": 18.5, "font": "Liberation Serif", "color": "black"},
     "encoding": {
      "x": {"field": "x", "type": "quantitative", "scale": {"domain": [0, 35], "nice": false, "zero": false}, "axis": null},
      "y": {"field": "y", "type": "quantitative", "scale": {"type": "log", "domain": [0.0005, 10], "nice": false}, "axis": null},
      "text": {"field": "t"}
     }
    },
    {
     "data": {"values": [{"x": 19.9, "y": 0.0016, "t": "l"}]},
     "mark": {"type": "text", "align": "left", "baseline": "alphabetic", "fontSize": 18.5, "font": "Liberation Serif", "fontStyle": "italic", "color": "black"},
     "encoding": {
      "x": {"field": "x", "type": "quantitative", "scale": {"domain": [0, 35], "nice": false, "zero": false}, "axis": null},
      "y": {"field": "y", "type": "quantitative", "scale": {"type": "log", "domain": [0.0005, 10], "nice": false}, "axis": null},
      "text": {"field": "t"}
     }
    },
    {
     "data": {"values": [{"x": -4.17, "y": 6.3, "t": "(a)"}]},
     "mark": {"type": "text", "align": "center", "baseline": "alphabetic", "fontSize": 17, "font": "Liberation Serif", "color": "black"},
     "encoding": {
      "x": {"field": "x", "type": "quantitative", "scale": {"domain": [0, 35], "nice": false, "zero": false}, "axis": null},
      "y": {"field": "y", "type": "quantitative", "scale": {"type": "log", "domain": [0.0005, 10], "nice": false}, "axis": null},
      "text": {"field": "t"}
     }
    },
    {
     "data": {"name": "hatchBlack"},
     "mark": {"type": "rule", "color": "#333333", "strokeWidth": 0.7},
     "encoding": {
      "x": {"field": "x", "type": "quantitative", "scale": {"domain": [0, 2], "range": [263.2, 333.7], "nice": false, "zero": false}, "axis": null},
      "x2": {"field": "x2"},
      "y": {"field": "y", "type": "quantitative", "scale": {"domain": [0, 9], "range": [234, 155], "nice": false, "zero": false}, "axis": null},
      "y2": {"field": "y2"}
     }
    },
    {
     "data": {"name": "hatchRed"},
     "mark": {"type": "rule", "color": "#ff3333", "strokeWidth": 0.8},
     "encoding": {
      "x": {"field": "x", "type": "quantitative", "scale": {"domain": [0, 2], "range": [263.2, 333.7], "nice": false, "zero": false}, "axis": null},
      "x2": {"field": "x2"},
      "y": {"field": "y", "type": "quantitative", "scale": {"domain": [0, 9], "range": [234, 155], "nice": false, "zero": false}, "axis": null},
      "y2": {"field": "y2"}
     }
    },
    {
     "data": {"name": "insetTicks"},
     "mark": {"type": "rule", "color": "black", "strokeWidth": 1.2},
     "encoding": {
      "x": {"field": "x", "type": "quantitative", "scale": {"domain": [0, 2], "range": [263.2, 333.7], "nice": false, "zero": false}, "axis": null},
      "x2": {"field": "x2"},
      "y": {"field": "y", "type": "quantitative", "scale": {"domain": [0, 9], "range": [234, 155], "nice": false, "zero": false}, "axis": null},
      "y2": {"field": "y2"}
     }
    },
    {
     "data": {"values": [{"x": 0, "x2": 1, "y": 4, "y2": 9}]},
     "mark": {"type": "rect", "fill": null, "fillOpacity": 0, "stroke": "#ff0000", "strokeWidth": 2},
     "encoding": {
      "x": {"field": "x", "type": "quantitative", "scale": {"domain": [0, 2], "range": [263.2, 333.7], "nice": false, "zero": false}, "axis": null},
      "x2": {"field": "x2"},
      "y": {"field": "y", "type": "quantitative", "scale": {"domain": [0, 9], "range": [234, 155], "nice": false, "zero": false}, "axis": null},
      "y2": {"field": "y2"}
     }
    },
    {
     "data": {"values": [{"x": 0, "y": 4, "i": 0}, {"x": 1, "y": 4, "i": 1}, {"x": 1, "y": 1, "i": 2}, {"x": 2, "y": 1, "i": 3}]},
     "mark": {"type": "line", "color": "black", "strokeWidth": 3},
     "encoding": {
      "x": {"field": "x", "type": "quantitative", "scale": {"domain": [0, 2], "range": [263.2, 333.7], "nice": false, "zero": false},
        "axis": {"orient": "bottom", "offset": -28, "values": [0, 1], "domain": true, "domainColor": "black", "domainWidth": 2, "ticks": false, "labelPadding": 5, "labelFontSize": 13, "title": null,
          "labelExpr": "datum.value == 0 ? '0' : 'R'",
          "labelFontStyle": {"condition": {"test": "datum.value == 1", "value": "italic"}, "value": "normal"}}},
      "y": {"field": "y", "type": "quantitative", "scale": {"domain": [0, 9], "range": [234, 155], "nice": false, "zero": false},
        "axis": {"orient": "left", "offset": -263.2, "values": [0, 5], "domain": true, "domainColor": "black", "domainWidth": 2, "ticks": false, "labelPadding": 6, "labelFontSize": 13, "title": null}},
      "order": {"field": "i", "type": "quantitative"}
     }
    },
    {
     "data": {"values": [{"x": 1.53, "y": 6.06, "t": "Δε(r)"}]},
     "mark": {"type": "text", "align": "center", "baseline": "middle", "fontSize": 15, "font": "Liberation Serif", "color": "#ff0000"},
     "encoding": {
      "x": {"field": "x", "type": "quantitative", "scale": {"domain": [0, 2], "range": [263.2, 333.7], "nice": false, "zero": false}, "axis": null},
      "y": {"field": "y", "type": "quantitative", "scale": {"domain": [0, 9], "range": [234, 155], "nice": false, "zero": false}, "axis": null},
      "text": {"field": "t"}
     }
    },
    {
     "data": {"values": [{"x": 1.55, "y": 2.35, "t": "ε(r)"}]},
     "mark": {"type": "text", "align": "center", "baseline": "middle", "fontSize": 15, "font": "Liberation Serif", "color": "black"},
     "encoding": {
      "x": {"field": "x", "type": "quantitative", "scale": {"domain": [0, 2], "range": [263.2, 333.7], "nice": false, "zero": false}, "axis": null},
      "y": {"field": "y", "type": "quantitative", "scale": {"domain": [0, 9], "range": [234, 155], "nice": false, "zero": false}, "axis": null},
      "text": {"field": "t"}
     }
    },
    {
     "data": {"name": "ta"},
     "mark": {"type": "rule", "color": "black", "strokeWidth": 1.5, "opacity": 1},
     "encoding": {
      "x": {"field": "x", "type": "quantitative", "scale": {"domain": [0, 35], "range": [0, 347], "nice": false, "zero": false}, "axis": null},
      "x2": {"field": "x2"},
      "y": {"field": "y", "type": "quantitative", "scale": {"type": "log", "domain": [0.0005, 10], "range": [262, 0], "nice": false}, "axis": null},
      "y2": {"field": "y2"}
     }
    }
   ]
  },
  {
   "width": 347, "height": 264,
   "resolve": {"scale": {"x": "independent", "y": "independent"}},
   "layer": [
    {
     "data": {"name": "b"},
     "mark": {"type": "point", "filled": false, "clip": true, "opacity": 1, "strokeWidth": 1.2, "size": 90},
     "encoding": {
      "x": {"field": "x", "type": "quantitative", "scale": {"domain": [0, 35], "nice": false, "zero": false},
        "axis": {"orient": "bottom", "values": [0,5,10,15,20,25,30,35], "ticks": false, "labelFontSize": 15, "labelPadding": 6, "title": "Re(kR)", "titlePadding": 2}},
      "y": {"field": "y", "type": "quantitative", "scale": {"type": "log", "domain": [1e-11, 1], "nice": false},
        "axis": {"orient": "left", "values": [1e-11, 1e-9, 1e-7, 1e-5, 1e-3, 1e-1], "ticks": false, "labelPadding": 7, "title": "relative error", "titlePadding": -3,
          "labelExpr": "round(log(datum.value)/LN10)==-1 ? '10⁻¹' : round(log(datum.value)/LN10)==-3 ? '10⁻³' : round(log(datum.value)/LN10)==-5 ? '10⁻⁵' : round(log(datum.value)/LN10)==-7 ? '10⁻⁷' : round(log(datum.value)/LN10)==-9 ? '10⁻⁹' : round(log(datum.value)/LN10)==-11 ? '10⁻¹¹' : ''"}},
      "shape": {"field": "s", "type": "nominal", "scale": {"domain": ["Not extrapolated", "Extrapolated"], "range": ["M-0.9,0H0.9M0,-0.9V0.9", "M0,-1L0.951,-0.309L0.588,0.809L-0.588,0.809L-0.951,-0.309Z M0,-1V0.809 M-0.82,0.1H0.82"]},
        "legend": {"orient": "none", "legendX": 214.5, "legendY": 18.5, "title": null, "symbolSize": 90, "labelOffset": 14, "rowPadding": 0.3}},
      "color": {"field": "s", "type": "nominal", "scale": {"domain": ["Not extrapolated", "Extrapolated"], "range": ["#0000ff", "#0000ff"]},
        "legend": {"orient": "none", "legendX": 214.5, "legendY": 18.5, "title": null, "symbolSize": 90, "labelOffset": 14, "rowPadding": 0.3}}
     }
    },
    {
     "data": {"values": [{"x": -4.4, "y": 0.55, "t": "(b)"}]},
     "mark": {"type": "text", "align": "center", "baseline": "alphabetic", "fontSize": 17, "font": "Liberation Serif", "color": "black"},
     "encoding": {
      "x": {"field": "x", "type": "quantitative", "scale": {"domain": [0, 35], "nice": false, "zero": false}, "axis": null},
      "y": {"field": "y", "type": "quantitative", "scale": {"type": "log", "domain": [1e-11, 1], "nice": false}, "axis": null},
      "text": {"field": "t"}
     }
    },
    {
     "data": {"name": "tb"},
     "mark": {"type": "rule", "color": "black", "strokeWidth": 1.5, "opacity": 1},
     "encoding": {
      "x": {"field": "x", "type": "quantitative", "scale": {"domain": [0, 35], "range": [0, 347], "nice": false, "zero": false}, "axis": null},
      "x2": {"field": "x2"},
      "y": {"field": "y", "type": "quantitative", "scale": {"type": "log", "domain": [1e-11, 1], "range": [264, 0], "nice": false}, "axis": null},
      "y2": {"field": "y2"}
     }
    }
   ]
  }
 ]
}
